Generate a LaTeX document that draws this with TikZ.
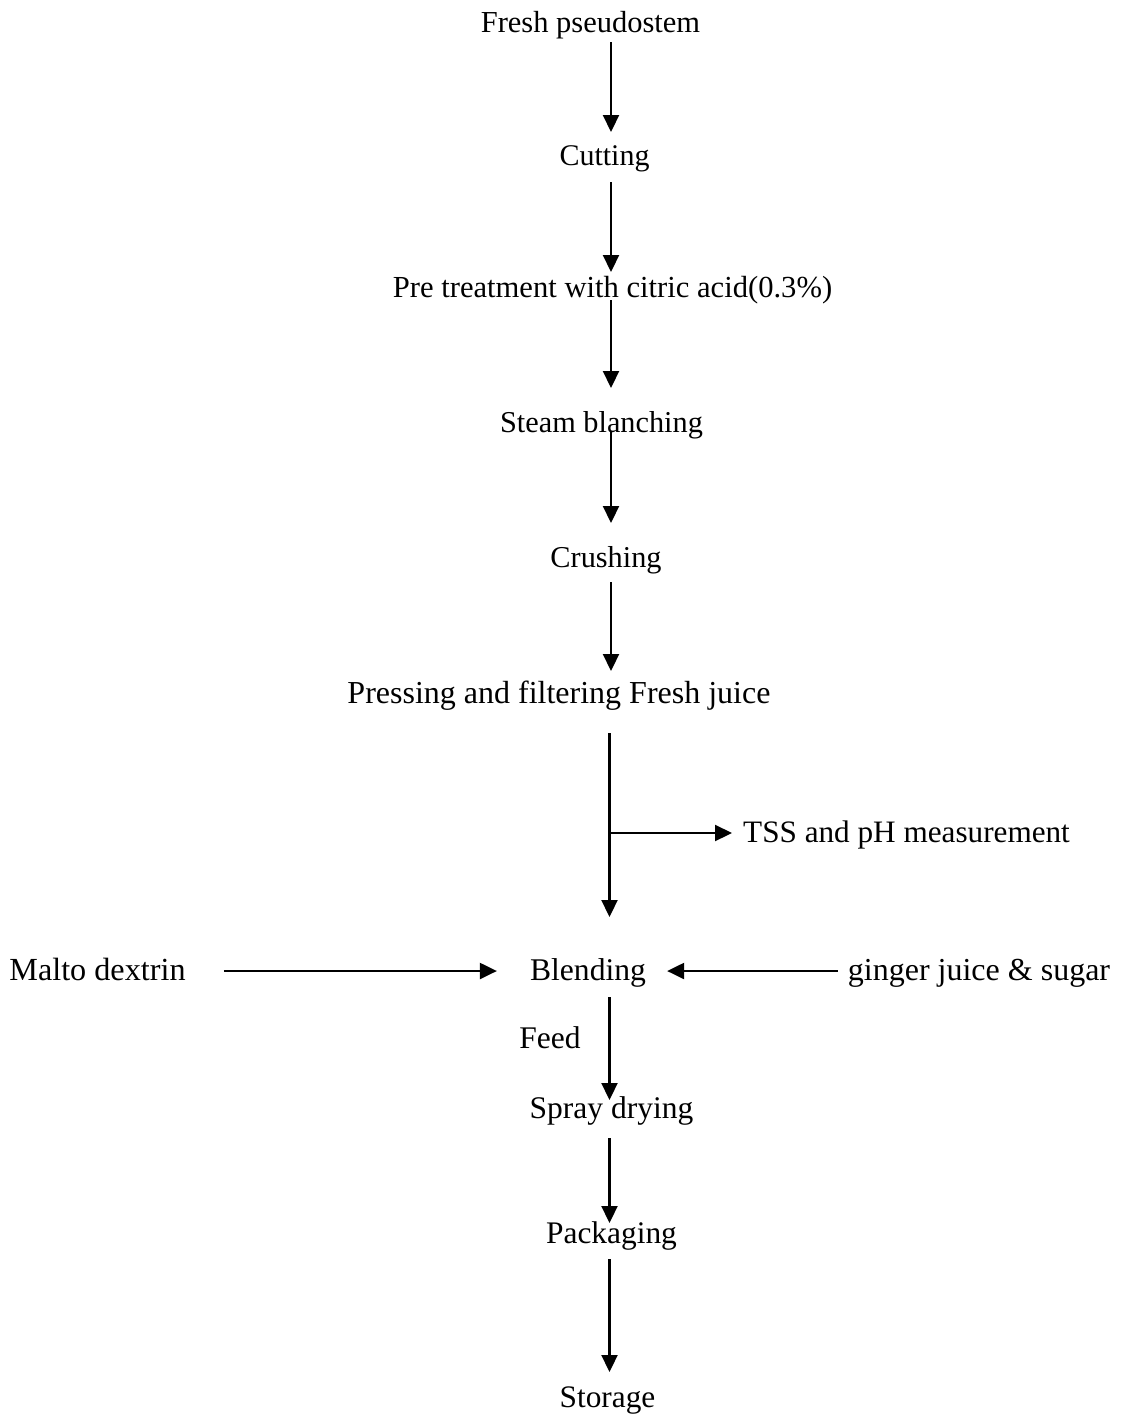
\documentclass[tikz,border=0pt]{standalone}
\usepackage{fontspec}
\setmainfont{Liberation Serif}
\usetikzlibrary{arrows.meta}
\begin{document}
\begin{tikzpicture}[x=1pt,y=-1pt,
  lbl/.style={inner sep=0pt, anchor=base, font=\fontsize{#1}{36}\selectfont},
  lbl/.default=30,
  arr/.style={line width=2.2pt, -{Triangle[length=17pt,width=16pt]}}]
\useasboundingbox (0,0) rectangle (1120,1416);
\coordinate (sA) at (611,0);
\coordinate (sB) at (609.5,0);
\node[lbl=30.5] (fresh) at (590.5,32) {Fresh pseudostem};
\node[lbl=30] (cut) at (604.5,165) {Cutting};
\node[lbl=30.6] (pre) at (612.5,297) {Pre treatment with citric acid(0.3\%)};
\node[lbl=30.3] (steam) at (601.5,432) {Steam blanching};
\node[lbl=30.3] (crush) at (606,567) {Crushing};
\node[lbl=32] (press) at (559,703) {Pressing and filtering Fresh juice};
\node[lbl=31.2, anchor=base west] (tss) at (743,842) {TSS and pH measurement};
\node[lbl=31.6] (blend) at (588,980) {Blending};
\node[lbl=32.2] (malto) at (97.5,980) {Malto dextrin};
\node[lbl=32] (ginger) at (979,980) {ginger juice \& sugar};
\node[lbl=31.5] (feed) at (550,1048) {Feed};
\node[lbl=31.5] (spray) at (611.5,1118) {Spray drying};
\node[lbl=31.4] (pack) at (611.5,1243) {Packaging};
\node[lbl=31.3] (store) at (607.5,1407) {Storage};
\coordinate (br) at (609.5,833);

\draw[arr, shorten <=10pt, shorten >=33pt] (fresh.base -| sA) -- (cut.base -| sA);
\draw[arr, shorten <=17pt, shorten >=25pt] (cut.base -| sA) -- (pre.base -| sA);
\draw[arr, shorten <=3pt, shorten >=44pt] (pre.base -| sA) -- (steam.base -| sA);
\draw[arr, shorten <=0pt, shorten >=44pt] (steam.base -| sA) -- (crush.base -| sA);
\draw[arr, shorten <=15pt, shorten >=32pt] (crush.base -| sA) -- (press.base -| sA);
\draw[arr, shorten <=30pt, shorten >=63pt] (press.base -| sB) -- (blend.base -| sB);
\draw[arr, shorten >=11pt] (br) -- (br -| tss.west);
\draw[arr, shorten <=38pt, shorten >=33pt] ([yshift=9pt]malto.base east) -- ([yshift=9pt]blend.base west);
\draw[arr, shorten <=10pt, shorten >=21pt] ([yshift=9pt]ginger.base west) -- ([yshift=9pt]blend.base east);
\draw[arr, shorten <=17pt, shorten >=18pt] (blend.base -| sB) -- (spray.base -| sB);
\draw[arr, shorten <=20pt, shorten >=20pt] (spray.base -| sB) -- (pack.base -| sB);
\draw[arr, shorten <=16pt, shorten >=35pt] (pack.base -| sB) -- (store.base -| sB);
\end{tikzpicture}
\end{document}
